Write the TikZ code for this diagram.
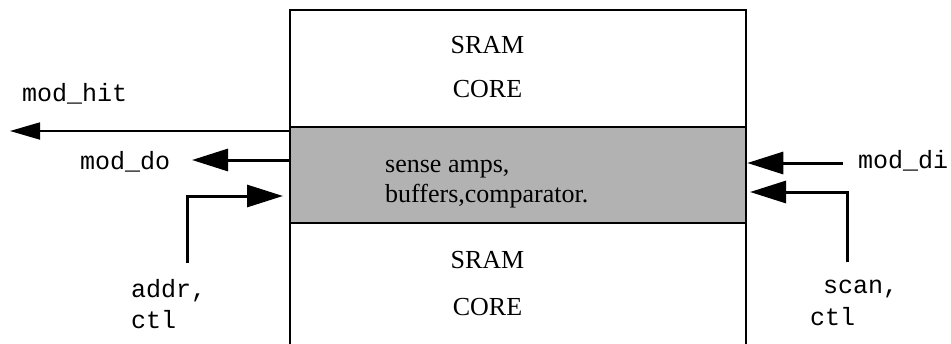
\documentclass[tikz,border=0pt]{standalone}
\usepackage{fontspec}
\setmainfont{Liberation Serif}
\setmonofont{Liberation Mono}
\usepackage{tikz}
\usetikzlibrary{positioning, arrows.meta}

\begin{document}
\begin{tikzpicture}[x=1pt, y=-1pt,
    block/.style={draw, line width=2.5pt, minimum width=456pt, inner sep=0pt},
    coretext/.style={font=\fontsize{26}{30}\selectfont, inner sep=0pt, anchor=base},
    ampstext/.style={font=\fontsize{26}{30}\selectfont, inner sep=0pt, anchor=base west},
    sig/.style={font=\ttfamily\fontsize{25}{31}\selectfont, inner sep=0pt, anchor=base west},
    bigarrow/.style={line width=3pt, -{Triangle[length=36pt, width=22pt]}},
    thinarrow/.style={line width=1.8pt, -{Triangle[length=30pt, width=17pt]}}]
      \useasboundingbox (0,0) rectangle (951,343);
      \clip (0,0) rectangle (951,343);

      % SRAM blocks and middle band
      \node[block, minimum height=117pt] (topcore) at (518,68.5) {};
      \node[block, minimum height=125pt] (botcore) at (518,285.5) {};
      \node[block, minimum height=96pt, fill=gray!60] (band) at (518,175) {};

      \node[coretext] (sram1) at (487.5,53) {SRAM};
      \node[coretext] (core1) at (487.5,97) {CORE};
      \node[coretext] (sram2) at (487.5,268) {SRAM};
      \node[coretext] (core2) at (487.5,315) {CORE};
      \node[ampstext] (amps) at (385,172) {sense amps,};
      \node[ampstext] (buffers) at (385,202) {buffers,comparator.};

      % Signal names
      \node[sig] (hit) at (22,101) {mod\_hit};
      \node[sig] (do) at (80,169) {mod\_do};
      \node[sig] (di) at (858,168) {mod\_di};
      \node[sig] (addr) at (131,297) {addr,};
      \node[sig] (addrctl) at (131,328) {ctl};
      \node[sig] (scan) at (823,293) {scan,};
      \node[sig] (scanctl) at (810,325) {ctl};

      % Arrow ends
      \coordinate (hitend) at (10,131);
      \coordinate (doend) at (192,160);
      \coordinate (addrstart) at (187,263);
      \coordinate (addrend) at (283,196);
      \coordinate (distart) at (843,163);
      \coordinate (scanstart) at (847,262);
      \coordinate (scanend) at (750,192);

      % Signal arrows
      \draw[thinarrow] (band.west |- hitend) -- (hitend);
      \draw[bigarrow] (band.west |- doend) -- (doend);
      \draw[bigarrow] (addrstart) |- (addrend);
      \draw[bigarrow] (distart) -- (band.east |- distart);
      \draw[bigarrow] (scanstart) |- (scanend);
    \end{tikzpicture}
\end{document}
